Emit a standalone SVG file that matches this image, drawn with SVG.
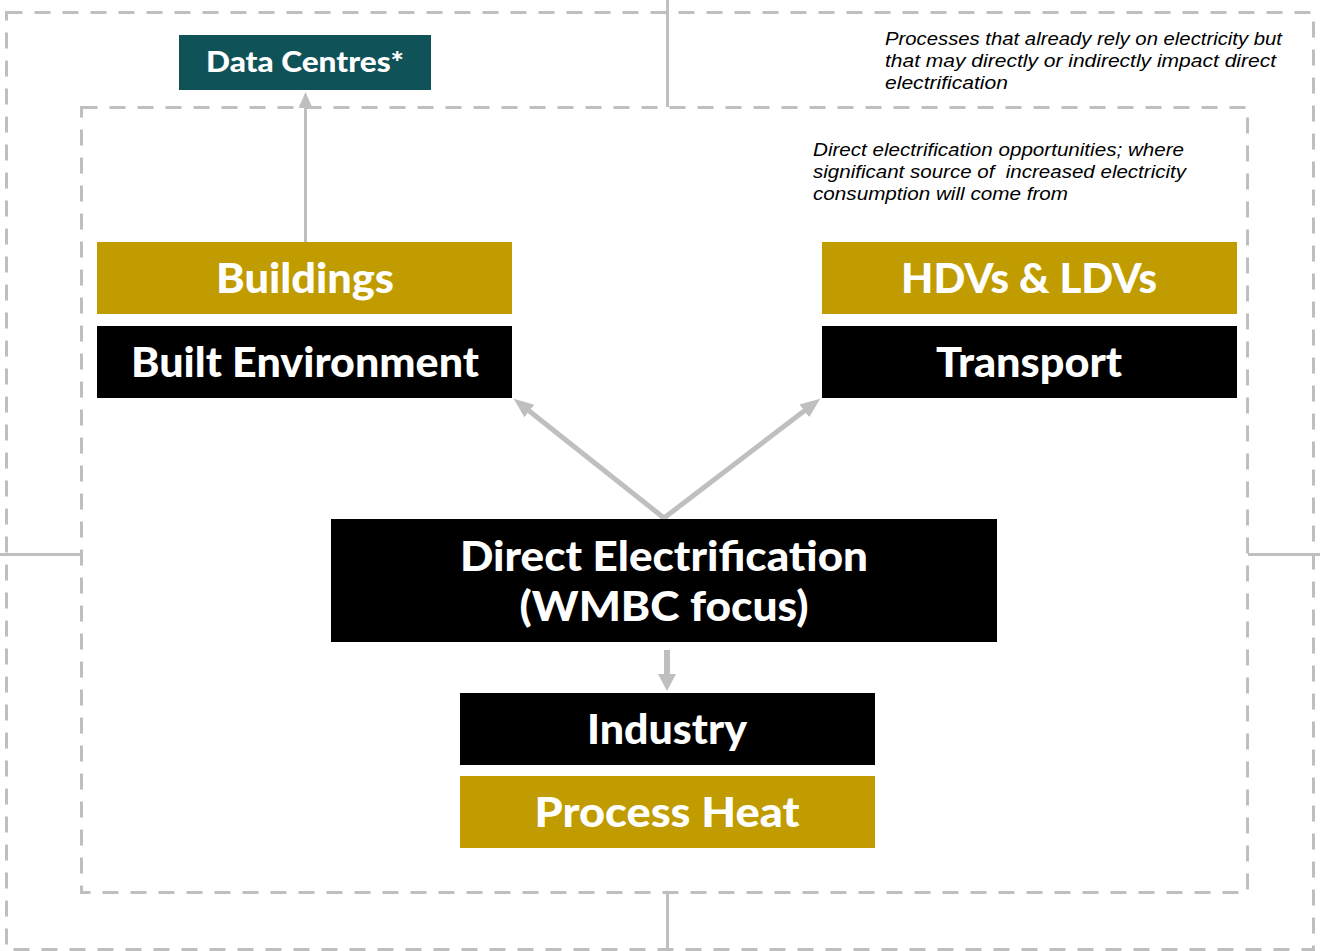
<svg xmlns="http://www.w3.org/2000/svg" width="1320" height="951" viewBox="0 0 1320 951">
<style>
.dash{fill:none;stroke:#BFBFBF;stroke-width:3;stroke-dasharray:16 12}
.ln{fill:none;stroke:#BFBFBF;stroke-width:3}
.arr{fill:none;stroke:#BFBFBF;stroke-width:5}
.gold{fill:#C09C00}
.black{fill:#000000}
.teal{fill:#0F5257}
.big{font-family:Lato,"Liberation Sans",sans-serif;font-weight:900;font-size:41px;fill:#FFFFFF;text-anchor:middle}
.dc{font-family:Lato,"Liberation Sans",sans-serif;font-weight:900;font-size:28px;fill:#FFFFFF;text-anchor:middle}
.note{font-family:"Liberation Sans",sans-serif;font-style:italic;font-size:17.5px;fill:#000000;white-space:pre}
</style>
<defs>
<marker id="ah" markerUnits="userSpaceOnUse" markerWidth="22" markerHeight="18" refX="1" refY="8" orient="auto"><path d="M0,0 L20,8 L0,16 z" fill="#BFBFBF"/></marker>
<marker id="ahs" markerUnits="userSpaceOnUse" markerWidth="18" markerHeight="16" refX="1" refY="7" orient="auto"><path d="M0,0 L16,7 L0,14 z" fill="#BFBFBF"/></marker>
<marker id="ahd" markerUnits="userSpaceOnUse" markerWidth="19" markerHeight="20" refX="1" refY="9" orient="auto"><path d="M0,0 L17,9 L0,18 z" fill="#BFBFBF"/></marker>
</defs>
<rect width="1320" height="951" fill="#FFFFFF"/>
<g id="frames">
<rect class="dash" x="6.5" y="12.5" width="1307" height="937"/>
<rect class="dash" x="81.5" y="107.5" width="1166" height="785"/>
</g>
<g id="connectors">
<line class="ln" x1="667.5" y1="0" x2="667.5" y2="107"/>
<line class="ln" x1="667.5" y1="893" x2="667.5" y2="951"/>
<line class="ln" x1="0" y1="554.5" x2="81" y2="554.5"/>
<line class="ln" x1="1248" y1="554.5" x2="1320" y2="554.5"/>
<line class="ln" x1="305.5" y1="242" x2="305.5" y2="107" marker-end="url(#ahs)"/>
<line class="arr" x1="664" y1="518" x2="528.6" y2="410.5" marker-end="url(#ah)"/>
<line class="arr" x1="664" y1="518" x2="805.1" y2="410.2" marker-end="url(#ah)"/>
<line class="ln" style="stroke-width:6" x1="667" y1="650" x2="667" y2="675" marker-end="url(#ahd)"/>
</g>
<g id="data-centres">
<rect class="teal" x="179" y="35" width="252" height="55"/>
<text class="dc" x="305" y="72" textLength="198" lengthAdjust="spacingAndGlyphs">Data Centres*</text>
</g>
<g id="buildings">
<rect class="gold" x="97" y="242" width="415" height="72"/>
<text class="big" x="305" y="293" textLength="178" lengthAdjust="spacingAndGlyphs">Buildings</text>
</g>
<g id="built-environment">
<rect class="black" x="97" y="326" width="415" height="72"/>
<text class="big" x="305" y="377" textLength="348" lengthAdjust="spacingAndGlyphs">Built Environment</text>
</g>
<g id="hdvs-ldvs">
<rect class="gold" x="822" y="242" width="415" height="72"/>
<text class="big" x="1029" y="293" textLength="256" lengthAdjust="spacingAndGlyphs">HDVs &amp; LDVs</text>
</g>
<g id="transport">
<rect class="black" x="822" y="326" width="415" height="72"/>
<text class="big" x="1029" y="377" textLength="186" lengthAdjust="spacingAndGlyphs">Transport</text>
</g>
<g id="direct-electrification">
<rect class="black" x="331" y="519" width="666" height="123"/>
<text class="big" x="664" y="571" textLength="408" lengthAdjust="spacingAndGlyphs">Direct Electrification</text>
<text class="big" x="664" y="621" textLength="289" lengthAdjust="spacingAndGlyphs">(WMBC focus)</text>
</g>
<g id="industry">
<rect class="black" x="460" y="693" width="415" height="72"/>
<text class="big" x="667" y="744" textLength="160" lengthAdjust="spacingAndGlyphs">Industry</text>
</g>
<g id="process-heat">
<rect class="gold" x="460" y="776" width="415" height="72"/>
<text class="big" x="667" y="827" textLength="265" lengthAdjust="spacingAndGlyphs">Process Heat</text>
</g>
<g id="notes">
<text class="note" x="885" y="45" textLength="397" lengthAdjust="spacingAndGlyphs">Processes that already rely on electricity but</text>
<text class="note" x="885" y="67" textLength="391" lengthAdjust="spacingAndGlyphs">that may directly or indirectly impact direct</text>
<text class="note" x="885" y="89" textLength="123" lengthAdjust="spacingAndGlyphs">electrification</text>
<text class="note" x="813" y="156" textLength="371" lengthAdjust="spacingAndGlyphs">Direct electrification opportunities; where</text>
<text class="note" x="813" y="178" textLength="373" lengthAdjust="spacingAndGlyphs">significant source of  increased electricity</text>
<text class="note" x="813" y="200" textLength="255" lengthAdjust="spacingAndGlyphs">consumption will come from</text>
</g>
</svg>
